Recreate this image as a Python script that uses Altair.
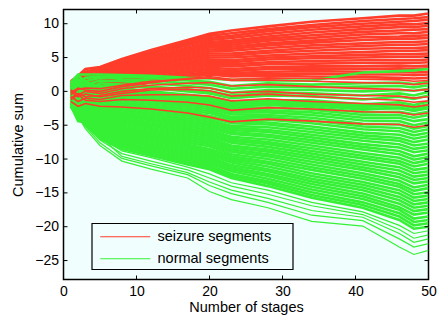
import altair as alt
import pandas as pd

STAGES = [1, 2, 3, 5, 8, 12, 17, 20, 23, 28, 34, 41, 46, 48, 50]

# seizure segments (red), dense band, top to bottom
RED_DENSE = [
    [1.5, 2.3, 3.3, 3.6, 4.8, 6.1, 7.6, 8.5, 9.0, 9.6, 10.3, 10.8, 11.2, 11.2, 11.5],
    [1.2, 2.0, 2.9, 3.4, 4.5, 5.8, 7.3, 8.2, 8.6, 9.2, 9.8, 10.4, 10.7, 10.8, 11.0],
    [1.0, 1.9, 2.6, 3.2, 4.3, 5.6, 7.0, 7.9, 8.2, 8.9, 9.5, 10.0, 10.3, 10.4, 10.6],
    [1.3, 0.6, 1.8, 3.0, 4.1, 5.4, 6.8, 7.6, 7.9, 8.5, 9.1, 9.6, 9.9, 9.9, 10.1],
    [0.8, 1.6, 2.4, 2.8, 3.9, 5.1, 6.5, 7.3, 7.5, 8.1, 8.7, 9.2, 9.5, 9.5, 9.7],
    [0.6, 1.4, 2.1, 2.6, 3.6, 4.9, 6.2, 7.0, 7.2, 7.8, 8.3, 8.8, 9.0, 9.1, 9.2],
    [1.0, 0.3, 1.3, 2.5, 3.5, 4.7, 6.0, 6.8, 6.9, 7.5, 7.9, 8.4, 8.6, 8.6, 8.8],
    [0.4, 1.2, 1.9, 2.3, 3.3, 4.5, 5.8, 6.5, 6.6, 7.1, 7.5, 8.0, 8.1, 8.2, 8.3],
    [0.2, 1.0, 1.6, 2.1, 3.1, 4.3, 5.5, 6.2, 6.3, 6.8, 7.2, 7.6, 7.8, 7.8, 7.9],
    [0.7, 0.0, 1.1, 1.9, 2.9, 4.0, 5.2, 5.9, 6.0, 6.4, 6.8, 7.1, 7.3, 7.3, 7.4],
    [0.0, 0.8, 1.4, 1.7, 2.7, 3.8, 4.9, 5.6, 5.6, 6.0, 6.4, 6.7, 6.9, 6.9, 7.0],
    [-0.2, 0.6, 1.2, 1.5, 2.5, 3.6, 4.7, 5.3, 5.3, 5.7, 6.0, 6.3, 6.4, 6.4, 6.5],
    [0.4, -0.3, 0.8, 1.3, 2.3, 3.3, 4.4, 5.0, 5.0, 5.3, 5.6, 5.8, 6.0, 6.0, 6.1],
    [-0.4, 0.4, 0.9, 1.1, 2.0, 3.1, 4.1, 4.7, 4.6, 5.0, 5.2, 5.4, 5.5, 5.5, 5.6],
    [-0.5, 0.3, 0.7, 0.9, 1.8, 2.8, 3.9, 4.4, 4.3, 4.7, 4.9, 5.0, 5.1, 5.1, 5.2],
    [0.1, -0.6, 0.4, 0.7, 1.6, 2.6, 3.6, 4.1, 4.0, 4.3, 4.5, 4.6, 4.6, 4.6, 4.7],
    [-0.7, 0.1, 0.3, 0.5, 1.4, 2.4, 3.3, 3.8, 3.7, 4.0, 4.1, 4.2, 4.2, 4.2, 4.3],
    [-0.8, 0.0, 0.1, 0.3, 1.2, 2.1, 3.0, 3.5, 3.3, 3.6, 3.7, 3.7, 3.8, 3.7, 3.8],
    [-0.3, -1.0, -0.2, 0.1, 1.0, 1.9, 2.8, 3.2, 3.0, 3.3, 3.4, 3.3, 3.4, 3.3, 3.4],
    [-0.9, -0.1, -0.2, -0.1, 0.8, 1.7, 2.5, 2.9, 2.7, 2.9, 3.0, 2.9, 2.9, 2.8, 2.9],
    [-1.0, -0.2, -0.3, -0.2, 0.6, 1.5, 2.3, 2.7, 2.4, 2.6, 2.6, 2.5, 2.5, 2.4, 2.5],
    [-0.6, -1.2, -0.5, -0.3, 0.5, 1.3, 2.1, 2.5, 2.2, 2.3, 2.2, 2.1, 2.0, 1.9, 2.0],
]

# seizure segments that drift down into the normal band
RED_SPARSE = [
    [-0.2, 0.5, 0.2, 0.0, 0.7, 1.3, 1.9, 2.2, 1.8, 2.0, 1.9, 1.8, 1.7, 1.5, 1.6],
    [-0.5, 0.3, 0.5, 0.4, 0.9, 1.5, 1.8, 2.0, 1.6, 1.7, 1.5, 1.3, 1.2, 1.0, 1.2],
    [0.2, -0.5, 0.0, -0.3, 0.4, 0.9, 1.2, 1.3, 0.8, 1.0, 0.7, 0.4, 0.3, 0.1, 0.3],
    [-1.0, -0.3, -0.8, -0.6, 0.0, 0.4, 0.6, 0.5, -0.2, 0.0, -0.4, -0.6, -0.7, -1.0, -0.8],
    [0.0, -0.8, -0.4, -0.8, -0.3, 0.2, 0.3, 0.1, -0.7, -0.4, -0.8, -1.1, -1.3, -1.6, -1.4],
    [-0.8, -1.5, -1.0, -1.2, -0.6, -0.5, -0.5, -0.7, -1.4, -1.1, -1.5, -1.8, -2.0, -2.3, -2.0],
    [-1.2, -0.5, -1.3, -1.5, -1.2, -1.3, -1.6, -2.0, -2.8, -2.4, -2.6, -3.0, -3.1, -3.5, -3.2],
    [-1.5, -2.2, -1.8, -2.2, -2.3, -2.6, -3.2, -3.8, -4.5, -4.1, -4.4, -4.8, -4.9, -5.3, -5.0],
]

# normal segments (green) that stay high, mixed with the red band
GREEN_MID = [
    [1.3, 2.5, 2.5, 2.5, 2.4, 2.3, 2.0, 1.9, 1.7, 1.6, 1.6, 2.8, 3.0, 3.1, 3.3],
    [1.0, 2.3, 1.5, 2.0, 2.2, 2.0, 1.6, 1.4, 0.8, 1.2, 1.0, 1.2, 1.3, 1.1, 1.4],
    [0.5, 1.2, 2.0, 2.2, 1.8, 1.6, 1.2, 1.0, 0.4, 0.7, 0.6, 0.7, 0.8, 0.6, 0.9],
    [0.6, -0.2, 1.0, 1.6, 1.5, 1.2, 0.8, 0.5, -0.2, 0.2, 0.2, 0.0, 0.2, 0.1, 0.4],
    [-0.2, 0.8, 0.2, 1.2, 1.0, 0.7, 0.3, 0.0, -0.6, -0.2, -0.3, -0.6, -0.3, -0.6, -0.1],
    [1.2, 0.0, 0.6, 0.8, 0.9, 0.5, 0.0, -0.3, -1.0, -0.6, -0.7, -1.2, -0.8, -1.1, -0.6],
    [0.3, 1.5, 0.4, 0.2, 0.2, -0.3, -0.7, -1.0, -1.8, -1.3, -1.3, -1.9, -1.6, -2.0, -1.5],
    [0.0, -1.0, -0.8, -0.2, -0.1, -0.4, -0.9, -1.3, -2.0, -1.6, -1.7, -2.3, -2.0, -2.4, -1.9],
    [0.8, -0.5, -0.3, -0.5, -0.6, -0.9, -1.3, -1.6, -2.4, -1.9, -2.0, -2.7, -2.4, -2.8, -2.3],
]

# normal segments, dense band, top to bottom
GREEN_DENSE = [
    [1.0, 1.8, 1.3, 0.8, 0.5, 0.0, -0.5, -0.8, -1.5, -1.3, -1.5, -2.2, -2.0, -2.4, -2.0],
    [0.9, 0.6, 1.1, 0.6, 0.2, -0.3, -0.8, -1.1, -1.8, -1.7, -1.9, -2.6, -2.5, -2.9, -2.5],
    [0.8, 1.5, 0.9, 0.4, 0.0, -0.5, -1.1, -1.4, -2.1, -2.0, -2.3, -3.1, -3.0, -3.4, -3.0],
    [0.7, 0.3, 0.8, 0.1, -0.3, -0.8, -1.4, -1.7, -2.5, -2.4, -2.7, -3.5, -3.5, -3.9, -3.5],
    [0.6, 1.2, 0.6, -0.1, -0.5, -1.1, -1.7, -2.0, -2.8, -2.8, -3.1, -3.9, -3.9, -4.4, -4.1],
    [0.5, 0.0, 0.4, -0.3, -0.8, -1.4, -2.0, -2.3, -3.1, -3.1, -3.5, -4.3, -4.4, -5.0, -4.6],
    [0.4, 0.9, 0.2, -0.5, -1.0, -1.6, -2.3, -2.6, -3.4, -3.5, -3.9, -4.8, -4.9, -5.5, -5.1],
    [0.3, -0.3, 0.0, -0.8, -1.3, -1.9, -2.6, -2.9, -3.8, -3.8, -4.3, -5.2, -5.4, -6.0, -5.6],
    [0.2, 0.5, -0.1, -1.0, -1.6, -2.2, -2.9, -3.2, -4.1, -4.2, -4.7, -5.6, -5.9, -6.5, -6.1],
    [0.2, -0.6, -0.3, -1.2, -1.8, -2.4, -3.1, -3.6, -4.4, -4.6, -5.2, -6.1, -6.4, -7.0, -6.6],
    [0.1, 0.2, -0.5, -1.4, -2.1, -2.7, -3.4, -3.9, -4.7, -4.9, -5.6, -6.5, -6.9, -7.5, -7.1],
    [0.0, -0.9, -0.7, -1.7, -2.3, -3.0, -3.7, -4.2, -5.1, -5.3, -6.0, -6.9, -7.3, -8.0, -7.7],
    [-0.1, -0.1, -0.9, -1.9, -2.6, -3.3, -4.0, -4.5, -5.4, -5.7, -6.4, -7.3, -7.8, -8.5, -8.2],
    [-0.2, -1.2, -1.0, -2.1, -2.8, -3.5, -4.3, -4.8, -5.7, -6.0, -6.8, -7.8, -8.3, -9.0, -8.7],
    [-0.3, -0.4, -1.2, -2.3, -3.1, -3.8, -4.6, -5.1, -6.0, -6.4, -7.2, -8.2, -8.8, -9.6, -9.2],
    [-0.4, -1.6, -1.4, -2.5, -3.4, -4.1, -4.9, -5.4, -6.3, -6.7, -7.6, -8.6, -9.3, -10.1, -9.7],
    [-0.5, -0.7, -1.6, -2.8, -3.6, -4.3, -5.2, -5.7, -6.7, -7.1, -8.0, -9.1, -9.8, -10.6, -10.2],
    [-0.6, -1.9, -1.8, -3.0, -3.9, -4.6, -5.5, -6.0, -7.0, -7.5, -8.4, -9.5, -10.3, -11.1, -10.7],
    [-0.7, -1.0, -1.9, -3.2, -4.1, -4.9, -5.8, -6.3, -7.3, -7.8, -8.8, -9.9, -10.7, -11.6, -11.3],
    [-0.8, -2.2, -2.1, -3.4, -4.4, -5.1, -6.1, -6.6, -7.6, -8.2, -9.2, -10.4, -11.2, -12.1, -11.8],
    [-0.9, -1.3, -2.3, -3.7, -4.6, -5.4, -6.4, -6.9, -8.0, -8.6, -9.6, -10.8, -11.7, -12.6, -12.3],
    [-1.0, -2.5, -2.5, -3.9, -4.9, -5.7, -6.7, -7.2, -8.3, -8.9, -10.0, -11.2, -12.2, -13.1, -12.8],
    [-1.1, -1.7, -2.7, -4.1, -5.2, -6.0, -7.0, -7.5, -8.6, -9.3, -10.4, -11.6, -12.7, -13.6, -13.3],
    [-1.2, -2.8, -2.8, -4.3, -5.4, -6.2, -7.3, -7.8, -8.9, -9.6, -10.8, -12.1, -13.2, -14.2, -13.8],
    [-1.3, -2.0, -3.0, -4.6, -5.7, -6.5, -7.6, -8.1, -9.3, -10.0, -11.2, -12.5, -13.7, -14.7, -14.3],
    [-1.4, -3.1, -3.2, -4.8, -5.9, -6.8, -7.9, -8.5, -9.6, -10.4, -11.6, -12.9, -14.1, -15.2, -14.9],
    [-1.5, -2.3, -3.4, -5.0, -6.2, -7.0, -8.1, -8.8, -9.9, -10.7, -12.1, -13.4, -14.6, -15.7, -15.4],
    [-1.5, -3.4, -3.6, -5.2, -6.4, -7.3, -8.4, -9.1, -10.2, -11.1, -12.5, -13.8, -15.1, -16.2, -15.9],
    [-1.6, -2.6, -3.7, -5.4, -6.7, -7.6, -8.7, -9.4, -10.5, -11.5, -12.9, -14.2, -15.6, -16.7, -16.4],
    [-1.7, -3.8, -3.9, -5.7, -6.9, -7.9, -9.0, -9.7, -10.9, -11.8, -13.3, -14.6, -16.1, -17.2, -16.9],
    [-1.8, -2.9, -4.1, -5.9, -7.2, -8.1, -9.3, -10.0, -11.2, -12.2, -13.7, -15.1, -16.6, -17.7, -17.4],
    [-1.9, -4.1, -4.3, -6.1, -7.5, -8.4, -9.6, -10.3, -11.5, -12.5, -14.1, -15.5, -17.1, -18.2, -17.9],
    [-2.0, -3.2, -4.5, -6.3, -7.7, -8.7, -9.9, -10.6, -11.8, -12.9, -14.5, -15.9, -17.5, -18.8, -18.5],
    [-2.1, -4.4, -4.6, -6.6, -8.0, -8.9, -10.2, -10.9, -12.2, -13.3, -14.9, -16.4, -18.0, -19.3, -19.0],
    [-2.2, -3.5, -4.8, -6.8, -8.2, -9.2, -10.5, -11.2, -12.5, -13.6, -15.3, -16.8, -18.5, -19.8, -19.5],
    [-2.3, -3.7, -5.0, -7.0, -8.5, -9.5, -10.8, -11.5, -12.8, -14.0, -15.7, -17.2, -19.0, -20.3, -20.0],
]

# normal segments below the dense band
GREEN_SPARSE = [
    [-1.8, -3.0, -4.6, -6.8, -8.8, -9.8, -11.2, -12.2, -13.5, -14.6, -16.4, -17.8, -19.8, -21.0, -20.6],
    [-2.0, -3.3, -5.0, -7.2, -9.2, -10.3, -11.6, -12.8, -14.0, -15.2, -16.9, -18.2, -20.4, -21.7, -21.2],
    [-1.5, -2.8, -4.3, -6.6, -9.6, -10.7, -12.0, -13.4, -14.6, -15.8, -17.6, -18.6, -21.0, -22.3, -21.8],
    [-2.1, -3.5, -5.2, -7.6, -9.9, -11.0, -12.3, -13.9, -15.1, -16.4, -18.3, -19.1, -21.8, -23.0, -22.5],
    [-2.3, -3.7, -5.5, -8.0, -10.3, -11.5, -12.8, -14.8, -16.0, -17.2, -19.2, -19.9, -23.0, -24.1, -23.5],
]

X_TICKS = [0, 10, 20, 30, 40, 50]
Y_TICKS = [-25, -20, -15, -10, -5, 0, 5, 10]
X_INNER = [10, 20, 30, 40]
SERIES = ["seizure segments", "normal segments"]
COLORS = ["#ff3d2a", "#36f036"]

W, H = 365, 270
FONT = "Liberation Sans"
BG = "#f0fefe"
LEG_X, LEG_Y, LEG_W, LEG_H = 28.5, 214, 201, 46


def long_table(lines, series, tag):
    rows = []
    for i, vals in enumerate(lines):
        for s, v in zip(STAGES, vals):
            rows.append({"stage": s, "value": v, "line": f"{tag}{i}", "series": series})
    return pd.DataFrame(rows)


df_rd = long_table(RED_DENSE, SERIES[0], "rd")
df_rs = long_table(RED_SPARSE, SERIES[0], "rs")
df_g = pd.concat([
    long_table(GREEN_MID, SERIES[1], "gm"),
    long_table(GREEN_DENSE, SERIES[1], "gd"),
])
df_gs = long_table(GREEN_SPARSE, SERIES[1], "gs")

xs = alt.Scale(domain=[0, 50], nice=False, zero=False)
ys = alt.Scale(domain=[-27.8, 12.1], nice=False, zero=False)
x_axis = alt.Axis(values=X_TICKS, ticks=False, domain=False, grid=False, labelFlush=False,
                  labelPadding=5, labelFontSize=14, labelFont=FONT, labelColor="black",
                  title="Number of stages", titleFont=FONT, titleFontSize=14.5,
                  titleFontWeight="normal", titleColor="black", titlePadding=2)
y_axis = alt.Axis(values=Y_TICKS, ticks=False, domain=False, grid=False, labelFlush=False,
                  labelPadding=5, labelFontSize=14, labelFont=FONT, labelColor="black",
                  title="Cumulative sum", titleFont=FONT, titleFontSize=14.5,
                  titleFontWeight="normal", titleColor="black", titlePadding=9)
x_enc = alt.X("stage:Q", scale=xs, axis=x_axis)
y_enc = alt.Y("value:Q", scale=ys, axis=y_axis)
color_enc = alt.Color(
    "series:N",
    scale=alt.Scale(domain=SERIES, range=COLORS),
    legend=alt.Legend(
        orient="none", legendX=LEG_X, legendY=LEG_Y, title=None,
        symbolType="M-5,0H5", symbolSize=100, symbolStrokeWidth=1,
        symbolOffset=20, labelOffset=25, rowPadding=7, padding=6,
        labelFont=FONT, labelFontSize=14.5, labelColor="black",
    ),
)


def lines(df, width):
    return alt.Chart(df).mark_line(strokeWidth=width, clip=True).encode(
        x=x_enc, y=y_enc, detail="line:N", color=color_enc
    )


xt = pd.DataFrame({"stage": X_INNER})
yt = pd.DataFrame({"value": Y_TICKS})
tick_bottom = alt.Chart(xt).mark_rule(color="black", strokeWidth=1).encode(
    x=x_enc, y=alt.value(H), y2=alt.value(H - 4))
tick_top = alt.Chart(xt).mark_rule(color="black", strokeWidth=1).encode(
    x=x_enc, y=alt.value(0), y2=alt.value(4))
tick_left = alt.Chart(yt).mark_rule(color="black", strokeWidth=1).encode(
    y=y_enc, x=alt.value(0), x2=alt.value(4))
tick_right = alt.Chart(yt).mark_rule(color="black", strokeWidth=1).encode(
    y=y_enc, x=alt.value(W), x2=alt.value(W - 4))

# frame of the legend box
legend_box = alt.Chart(pd.DataFrame({"k": [0]})).mark_rect(
    fill=BG, stroke="black", strokeWidth=1.2
).encode(
    x=alt.value(LEG_X), x2=alt.value(LEG_X + LEG_W),
    y=alt.value(LEG_Y), y2=alt.value(LEG_Y + LEG_H),
)

chart = alt.layer(
    lines(df_rd, 2.6),
    lines(df_g, 2.6),
    lines(df_gs, 1.2),
    lines(df_rs, 1.6),
    legend_box,
    tick_bottom, tick_top, tick_left, tick_right,
).properties(
    width=W, height=H,
    autosize=alt.AutoSizeParams(type="none"),
    padding={"left": 55.5, "top": 1.5, "right": 8.5, "bottom": 36.5},
    background="white",
).configure_view(
    fill=BG, stroke="black", strokeWidth=1.5
)

chart.save("out.html", embed_options={"renderer": "svg", "actions": False})
